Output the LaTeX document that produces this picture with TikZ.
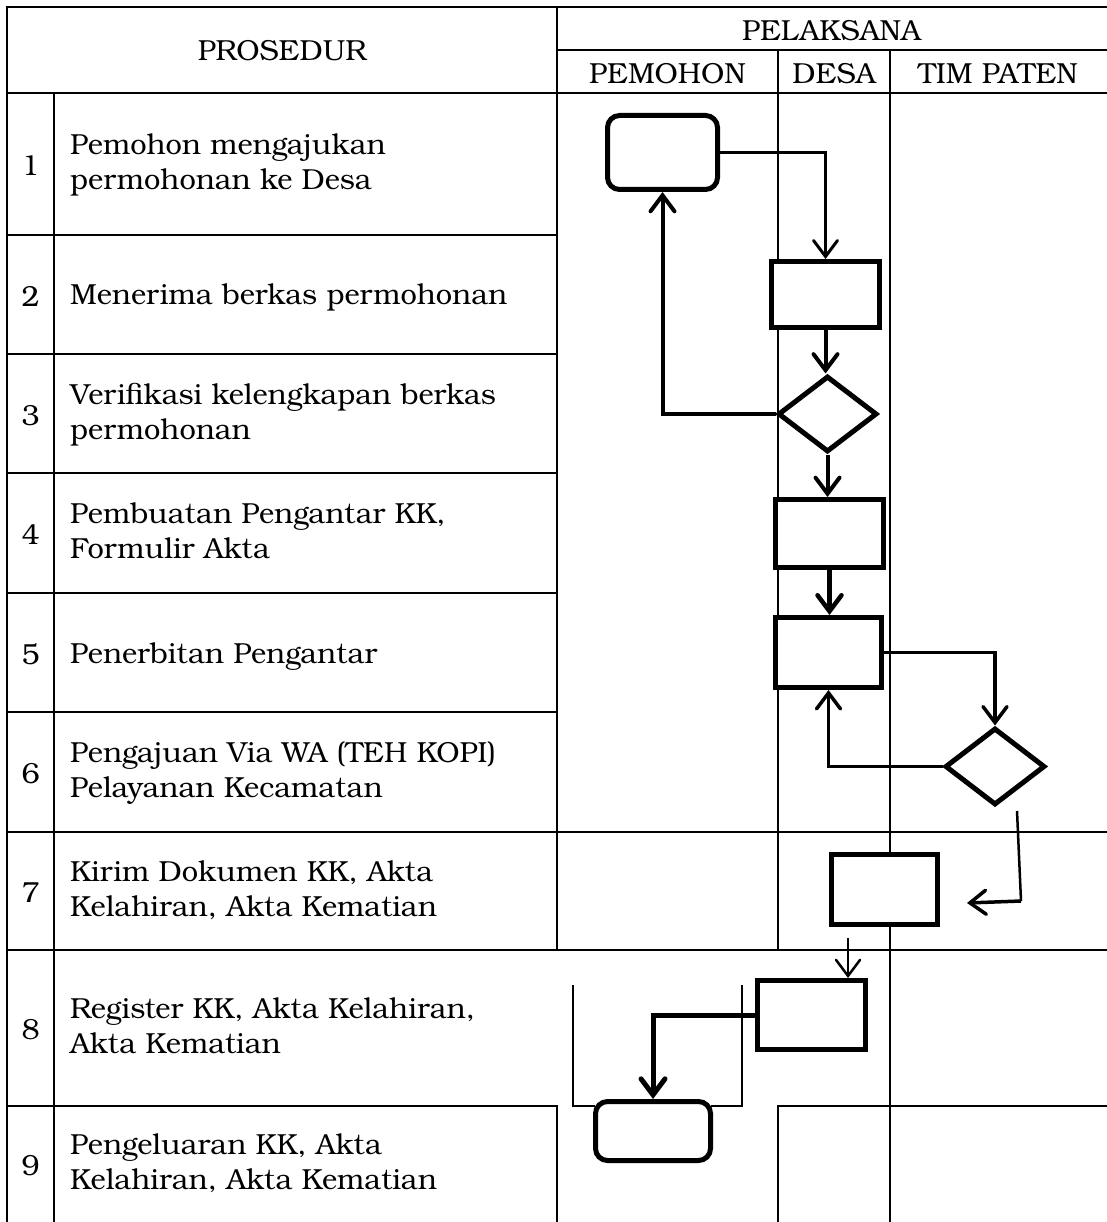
\documentclass[tikz,border=0pt]{standalone}
\usepackage{fontspec}
\setmainfont{texgyrebonum}[Extension=.otf, UprightFont=*-regular, BoldFont=*-bold, ItalicFont=*-italic, BoldItalicFont=*-bolditalic]
\usetikzlibrary{arrows.meta, shapes.geometric}
\begin{document}
\begin{tikzpicture}[x=1pt, y=-1pt,
  grid/.style={line width=2.8pt, line cap=rect},
  thin grid/.style={line width=2pt},
  txt/.style={font=\fontsize{29}{35}\selectfont, inner sep=0pt, align=left, anchor=west,
              execute at begin node=\strut, execute at end node=\strut},
  num/.style={font=\fontsize{29}{35}\selectfont, inner sep=0pt},
  hdr/.style={font=\fontsize{29}{35}\selectfont, inner sep=0pt},
  procbox/.style={draw, line width=5pt, fill=white, inner sep=0pt},
  termbox/.style={procbox, rounded corners=12pt},
  decbox/.style={draw, diamond, line width=5pt, fill=white, inner sep=0pt},
  arr/.style={line width=#1, -{Straight Barb[length=16pt, width=24pt, line cap=round]}},
  arr/.default=4pt,
]
\useasboundingbox (0,0) rectangle (1106,1222);

% ---------- table grid ----------
\draw[grid] (7,7) -- (1106,7);
\draw[grid] (557,50) -- (1106,50);
\draw[grid] (7,93) -- (1106,93);
\foreach \yy in {235,354,473,593,712} \draw[grid] (7,\yy) -- (557,\yy);
\draw[grid] (7,832) -- (1106,832);
\draw[grid] (7,950) -- (1106,950);
\draw[grid] (7,1106) -- (557,1106);
\draw[grid] (778,1106) -- (1106,1106);
\draw[grid] (7,7) -- (7,1222);
\draw[grid] (54,93) -- (54,1222);
\draw[grid] (557,7) -- (557,950);
\draw[grid] (557,1106) -- (557,1222);
\draw[grid] (778,50) -- (778,950);
\draw[grid] (778,1106) -- (778,1222);
\draw[grid] (890,50) -- (890,1222);
\draw[thin grid] (573,985) -- (573,1106) -- (595,1106);
\draw[thin grid] (742,985) -- (742,1106) -- (711,1106);

% ---------- header ----------
\node[hdr] (hprosedur) at (282,51) {PROSEDUR};
\node[hdr] (hpelaksana) at (831.5,31) {PELAKSANA};
\node[hdr] (hpemohon) at (667.5,74) {PEMOHON};
\node[hdr] (hdesa) at (834,74) {DESA};
\node[hdr] (htim) at (998,74) {TIM PATEN};

% ---------- rows ----------
\node[num] (n1) at (30.5,166) {1};
\node[num] (n2) at (30.5,296.5) {2};
\node[num] (n3) at (30.5,415.5) {3};
\node[num] (n4) at (30.5,535) {4};
\node[num] (n5) at (30.5,654.5) {5};
\node[num] (n6) at (30.5,774) {6};
\node[num] (n7) at (30.5,893) {7};
\node[num] (n8) at (30.5,1030) {8};
\node[num] (n9) at (30.5,1166) {9};

\node[txt] (t1) at (70,167) {Pemohon mengajukan\\permohonan ke Desa};
\node[txt] (t2) at (70,298) {Menerima berkas permohonan};
\node[txt] (t3) at (70,417) {Verifikasi kelengkapan berkas\\permohonan};
\node[txt] (t4) at (70,536) {Pembuatan Pengantar KK,\\Formulir Akta};
\node[txt] (t5) at (70,656) {Penerbitan Pengantar};
\node[txt] (t6) at (70,775) {Pengajuan Via WA (TEH KOPI)\\Pelayanan Kecamatan};
\node[txt] (t7) at (70,894) {Kirim Dokumen KK, Akta\\Kelahiran, Akta Kematian};
\node[txt] (t8) at (70,1031) {Register KK, Akta Kelahiran,\\Akta Kematian};
\node[txt] (t9) at (70,1167) {Pengeluaran KK, Akta\\Kelahiran, Akta Kematian};

% ---------- flow shapes ----------
\node[termbox, minimum width=110pt, minimum height=74pt] (r1) at (662.5,152.5) {};
\node[procbox, minimum width=108pt, minimum height=66pt] (r2) at (825.5,294.5) {};
\node[decbox, minimum width=99pt, minimum height=76pt] (d3) at (827.5,414) {};
\node[procbox, minimum width=108pt, minimum height=68pt] (r4) at (829.5,533.5) {};
\node[procbox, minimum width=106pt, minimum height=70pt] (r5) at (828.5,652.5) {};
\node[decbox, minimum width=100pt, minimum height=77pt] (d6) at (995,766.5) {};
\node[procbox, minimum width=106pt, minimum height=70pt] (r7) at (884.5,889.5) {};
\node[procbox, minimum width=108pt, minimum height=69pt] (r8) at (811.5,1015) {};
\node[termbox, minimum width=115pt, minimum height=59pt] (r9) at (653,1131) {};

\coordinate (c6a) at (1017,811);
\coordinate (c6b) at (1021,901);
\coordinate (c7e) at (967,903);
\coordinate (c7a) at (848,938);

% ---------- connectors ----------
\draw[arr=3pt] (r1.east) -| (r2.north);
\draw[arr=4pt] (r2.south) -- (r2.south |- d3.north);
\draw[arr=4pt] (d3.west) -| (r1.south);
\draw[arr=4pt] (d3.south) -- (d3.south |- r4.north);
\draw[arr=4.5pt] (r4.south) -- (r4.south |- r5.north);
\draw[arr=3.5pt] (r5.east) -| (d6.north);
\draw[arr=3.5pt] (d6.west) -| (r5.south);
\draw[line width=2.5pt] (c6a) -- (c6b);
\draw[arr=3.5pt] (c6b) -- (c7e);
\draw[arr=2.5pt] (c7a) -- (c7a |- r8.north);
\draw[arr=5pt] (r8.west) -| (r9.north);
\end{tikzpicture}
\end{document}
